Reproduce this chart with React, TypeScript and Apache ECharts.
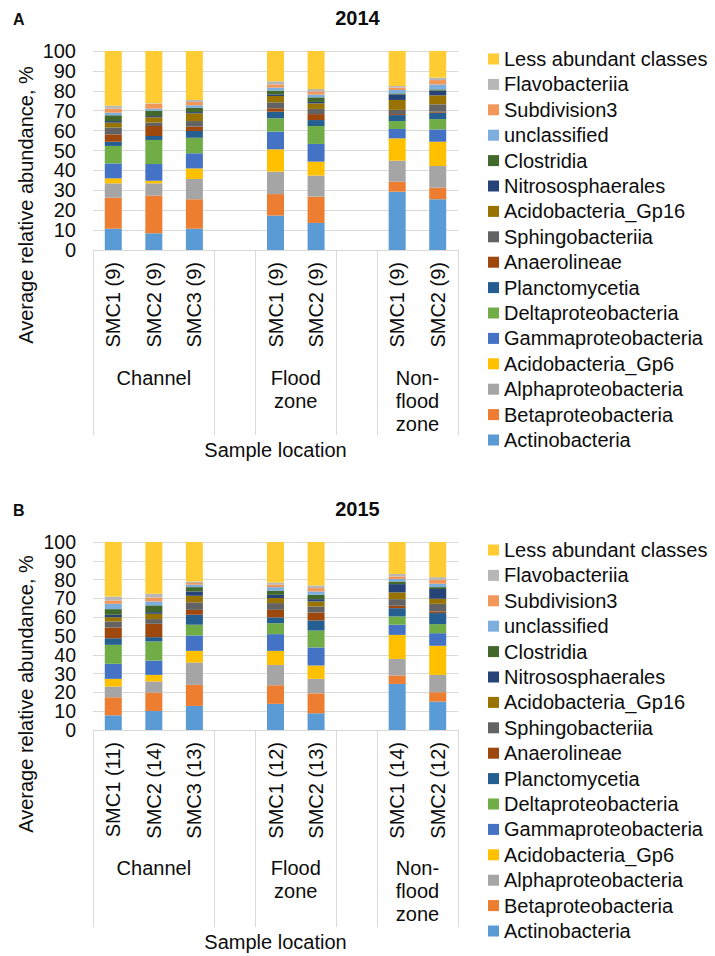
import React, { useEffect, useRef } from "react";
import * as echarts from "echarts";

const FONT = "'Liberation Sans', Arial, Helvetica, sans-serif";
const TEXT = "#0d0d0d";
const GRID = "#d9d9d9";

// Classes, bottom of stack first
const classNames = [
  "Actinobacteria",
  "Betaproteobacteria",
  "Alphaproteobacteria",
  "Acidobacteria_Gp6",
  "Gammaproteobacteria",
  "Deltaproteobacteria",
  "Planctomycetia",
  "Anaerolineae",
  "Sphingobacteriia",
  "Acidobacteria_Gp16",
  "Nitrososphaerales",
  "Clostridia",
  "unclassified",
  "Subdivision3",
  "Flavobacteriia",
  "Less abundant classes",
];
const classColors = [
  "#5b9bd5", "#ed7d31", "#a5a5a5", "#ffc000", "#4472c4", "#70ad47",
  "#255e91", "#9e480e", "#636363", "#997300", "#264478", "#43682b",
  "#7cafdd", "#f1975a", "#b7b7b7", "#ffcd33",
];

// Category slots (blank slots separate the location groups)
const categories2014 = ["SMC1 (9)", "SMC2 (9)", "SMC3 (9)", "", "SMC1 (9)", "SMC2 (9)", "", "SMC1 (9)", "SMC2 (9)"];
const categories2015 = ["SMC1 (11)", "SMC2 (14)", "SMC3 (13)", "", "SMC1 (12)", "SMC2 (13)", "", "SMC1 (14)", "SMC2 (12)"];
const groupNames = ["Channel", "", "Flood\nzone", "", "Non-\nflood\nzone"];
const groupSizes = [3, 1, 2, 1, 2];

// 2014 values (%), one entry per category slot
const actino2014 = [10.7, 8.4, 10.7, null, 17.3, 13.6, null, 29.3, 25.5];
const beta2014 = [15.6, 18.9, 14.8, null, 10.8, 13.2, null, 5.0, 5.8];
const alpha2014 = [7.2, 6.2, 10.2, null, 11.3, 10.6, null, 10.6, 10.9];
const gp6_2014 = [2.5, 1.3, 5.3, null, 11.2, 7.0, null, 11.2, 12.2];
const gamma2014 = [7.5, 8.4, 7.6, null, 8.9, 8.9, null, 4.7, 6.2];
const delta2014 = [8.8, 12.1, 7.8, null, 6.7, 9.0, null, 4.0, 5.2];
const plancto2014 = [2.1, 2.0, 3.4, null, 3.3, 3.0, null, 3.0, 3.2];
const anaero2014 = [3.7, 5.0, 2.2, null, 1.7, 3.0, null, 0.5, 0.5];
const sphingo2014 = [3.5, 1.7, 2.8, null, 3.0, 2.6, null, 2.1, 3.7];
const gp16_2014 = [2.4, 2.7, 3.9, null, 3.2, 2.8, null, 5.0, 4.5];
const nitroso2014 = [0.8, 0.6, 0.6, null, 0.8, 0.7, null, 2.8, 2.4];
const clostr2014 = [2.9, 2.7, 2.2, null, 1.9, 2.3, null, 0.5, 0.6];
const unclass2014 = [1.3, 1.0, 1.2, null, 1.5, 1.4, null, 1.7, 2.5];
const subdiv2014 = [2.0, 2.4, 1.7, null, 1.6, 1.6, null, 1.2, 2.2];
const flavo2014 = [1.5, 0.3, 1.0, null, 1.6, 1.2, null, 0.8, 1.2];
const less2014 = [27.5, 26.3, 24.6, null, 15.2, 19.1, null, 17.6, 13.4];

// 2015 values (%)
const actino2015 = [7.8, 10.1, 12.8, null, 13.9, 8.9, null, 24.5, 15.1];
const beta2015 = [9.6, 9.8, 11.2, null, 9.9, 10.6, null, 4.5, 5.0];
const alpha2015 = [5.7, 5.9, 11.9, null, 10.8, 7.7, null, 8.8, 9.2];
const gp6_2015 = [4.1, 3.5, 6.2, null, 7.5, 7.1, null, 12.8, 15.5];
const gamma2015 = [8.0, 7.6, 8.2, null, 8.9, 9.6, null, 5.4, 6.7];
const delta2015 = [10.1, 10.2, 5.7, null, 5.8, 9.0, null, 4.4, 4.8];
const plancto2015 = [3.5, 2.3, 5.3, null, 3.1, 5.4, null, 4.4, 5.9];
const anaero2015 = [5.7, 7.1, 2.6, null, 4.0, 4.2, null, 1.3, 0.9];
const sphingo2015 = [3.2, 2.5, 4.0, null, 3.6, 3.2, null, 3.5, 4.0];
const gp16_2015 = [2.3, 2.8, 3.5, null, 2.7, 2.7, null, 3.6, 2.7];
const nitroso2015 = [1.3, 0.9, 2.3, null, 1.7, 1.2, null, 4.4, 5.2];
const clostr2015 = [3.0, 3.6, 2.3, null, 2.2, 2.3, null, 1.4, 1.0];
const unclass2015 = [2.8, 2.1, 1.3, null, 1.9, 1.8, null, 1.3, 1.8];
const subdiv2015 = [1.8, 2.1, 0.9, null, 1.3, 1.8, null, 1.4, 2.1];
const flavo2015 = [2.1, 2.0, 0.8, null, 1.2, 1.4, null, 1.3, 1.4];
const less2015 = [29.0, 27.5, 21.0, null, 21.5, 23.1, null, 17.0, 18.7];

const yTicks = [0, 10, 20, 30, 40, 50, 60, 70, 80, 90, 100];

const data2014 = [actino2014, beta2014, alpha2014, gp6_2014, gamma2014, delta2014, plancto2014, anaero2014, sphingo2014, gp16_2014, nitroso2014, clostr2014, unclass2014, subdiv2014, flavo2014, less2014];
const data2015 = [actino2015, beta2015, alpha2015, gp6_2015, gamma2015, delta2015, plancto2015, anaero2015, sphingo2015, gp16_2015, nitroso2015, clostr2015, unclass2015, subdiv2015, flavo2015, less2015];

// group boundaries & centers in slot units
const groupBounds: number[] = [0];
groupSizes.forEach((s) => groupBounds.push(groupBounds[groupBounds.length - 1] + s));
const groupCenters = groupSizes.map((s, i) => groupBounds[i] + s / 2);
const labelCenters = groupCenters.filter((_, i) => groupNames[i] !== "");
const groupFormatter = (v: number) => {
  const i = groupCenters.findIndex((c) => Math.abs(c - v) < 1e-6);
  return i >= 0 ? groupNames[i] : "";
};

function panel(
  idx: number,
  cats: string[],
  data: (number | null)[][],
  top: number,
  height: number,
  groupMargin: number,
  dividerLen: number,
  nameGap: number,
  yFont: number
) {
  const grid = { left: 93, top, width: 365, height };
  const xCat = {
    type: "category",
    gridIndex: idx,
    data: cats,
    position: "bottom",
    axisLine: { show: true, lineStyle: { color: GRID, width: 1 } },
    axisTick: { show: false },
    axisLabel: { rotate: 90, interval: 0, margin: 12, fontSize: 20, color: TEXT, fontFamily: FONT },
    splitLine: { show: false },
  };
  const xGroup = {
    type: "value",
    gridIndex: idx,
    position: "bottom",
    min: 0,
    max: groupBounds[groupBounds.length - 1],
    axisLine: { show: false },
    splitLine: { show: false },
    axisTick: {
      show: true,
      customValues: groupBounds,
      length: dividerLen,
      lineStyle: { color: GRID, width: 1 },
    },
    axisLabel: {
      customValues: labelCenters,
      formatter: groupFormatter,
      margin: groupMargin,
      fontSize: 20,
      lineHeight: 23,
      color: TEXT,
      fontFamily: FONT,
      align: "center",
    },
    name: "Sample location",
    nameLocation: "middle",
    nameGap,
    nameTextStyle: { fontSize: 20, color: TEXT, fontFamily: FONT },
  };
  // two coincident y axes: one labels even ticks, the other odd ticks
  const yBase = (even: boolean, main: boolean) => ({
    type: "value",
    gridIndex: idx,
    position: "left",
    min: yTicks[0],
    max: yTicks[yTicks.length - 1],
    interval: 10,
    axisLine: { show: false },
    axisTick: { show: false },
    axisLabel: {
      margin: 17,
      fontSize: yFont,
      color: TEXT,
      fontFamily: FONT,
      showMinLabel: true,
      showMaxLabel: true,
      formatter: (v: number) => ((Math.round(v / 10) % 2 === 0) === even ? String(v) : ""),
    },
    splitLine: { show: main, lineStyle: { color: GRID, width: 1 } },
  });
  const yAxes = [yBase(true, true), yBase(false, false)];
  const series = classNames.map((name, i) => ({
    type: "bar",
    name,
    stack: "s" + idx,
    xAxisIndex: idx * 2,
    yAxisIndex: idx * 2,
    data: data[i],
    barWidth: 17,
    itemStyle: { color: classColors[i] },
    emphasis: { disabled: true },
  }));
  return { grid, xCat, xGroup, yAxes, series };
}

export default function App() {
  const ref = useRef<HTMLDivElement>(null);
  useEffect(() => {
    if (!ref.current) return;
    const chart = echarts.init(ref.current, null, { renderer: "svg" });
    const pA = panel(0, categories2014, data2014, 51, 199, 116, 185, 190, 20);
    const pB = panel(1, categories2015, data2015, 542, 188, 126, 197, 202, 19.5);
    const legendNames = [...classNames].reverse();
    const legendBase = {
      orient: "vertical",
      left: 488,
      data: legendNames,
      icon: "rect",
      itemWidth: 11,
      itemHeight: 11,
      itemGap: 5.4,
      padding: 0,
      selectedMode: false,
      textStyle: { fontSize: 20, lineHeight: 20, color: TEXT, fontFamily: FONT },
    };
    const option = {
      animation: false,
      backgroundColor: "#ffffff",
      title: [
        { text: "A", left: 8, top: 6, textStyle: { fontSize: 16, fontWeight: "bold", color: TEXT, fontFamily: FONT } },
        { text: "2014", left: "center", top: 3, textStyle: { fontSize: 20, fontWeight: "bold", color: TEXT, fontFamily: FONT } },
        { text: "B", left: 8, top: 497, textStyle: { fontSize: 16, fontWeight: "bold", color: TEXT, fontFamily: FONT } },
        { text: "2015", left: "center", top: 494, textStyle: { fontSize: 20, fontWeight: "bold", color: TEXT, fontFamily: FONT } },
      ],
      legend: [
        { ...legendBase, top: 49 },
        { ...legendBase, top: 540 },
      ],
      grid: [pA.grid, pB.grid],
      xAxis: [pA.xCat, pA.xGroup, pB.xCat, pB.xGroup],
      yAxis: [...pA.yAxes, ...pB.yAxes],
      series: [...pA.series, ...pB.series],
      graphic: [
        {
          type: "text",
          x: 26,
          y: 205,
          rotation: Math.PI / 2,
          style: { text: "Average relative abundance, %", fontSize: 20, fill: TEXT, fontFamily: FONT, align: "center", verticalAlign: "middle" },
        },
        {
          type: "text",
          x: 26,
          y: 694,
          rotation: Math.PI / 2,
          style: { text: "Average relative abundance, %", fontSize: 20, fill: TEXT, fontFamily: FONT, align: "center", verticalAlign: "middle" },
        },
      ],
    };
    chart.setOption(option as any);
    return () => chart.dispose();
  }, []);
  return <div ref={ref} style={{ position: "absolute", left: 0, top: 0, width: 715, height: 956 }} />;
}
